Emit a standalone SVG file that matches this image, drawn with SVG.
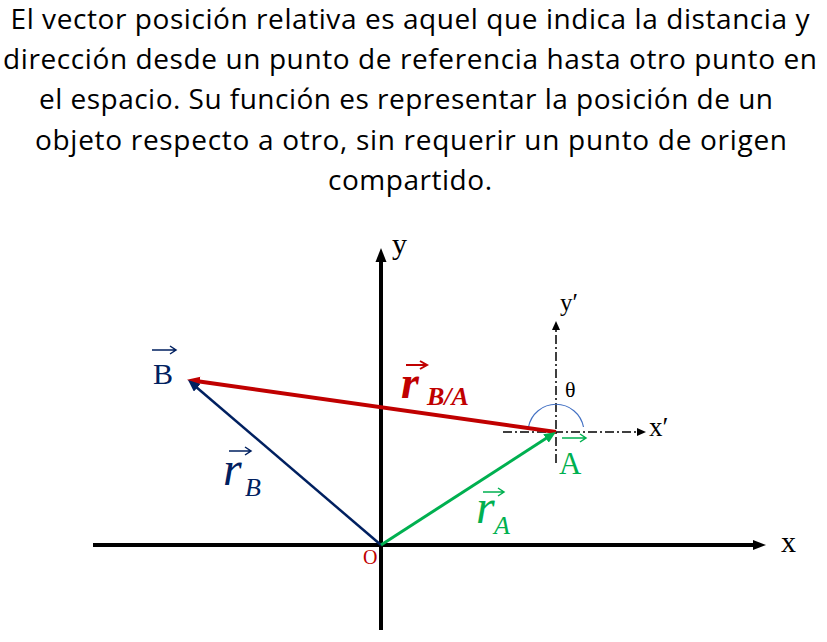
<svg xmlns="http://www.w3.org/2000/svg" width="827" height="642" viewBox="0 0 827 642">
<style>
.title{font-family:"Open Sans",Lato,"Liberation Sans",sans-serif;font-size:28px;fill:#000;text-anchor:middle}
.serif{font-family:"Liberation Serif","DejaVu Serif",serif}
.math{font-family:"Liberation Serif","DejaVu Serif",serif;font-style:italic}
.dd{stroke:#000;stroke-width:1.5;stroke-dasharray:9 3 2 3;fill:none}
</style>
<defs>
<marker id="hRed" markerUnits="userSpaceOnUse" markerWidth="14" markerHeight="12" refX="4" refY="5" orient="auto"><path d="M0,0 L13,5 L0,10 z" fill="#C00000"/></marker>
<marker id="hBlue" markerUnits="userSpaceOnUse" markerWidth="14" markerHeight="12" refX="4" refY="5" orient="auto"><path d="M0,0 L12,5 L0,10 z" fill="#002060"/></marker>
<marker id="hGreen" markerUnits="userSpaceOnUse" markerWidth="14" markerHeight="12" refX="4" refY="5" orient="auto"><path d="M0,0 L12,5 L0,10 z" fill="#00B050"/></marker>
</defs>
<rect width="827" height="642" fill="#fff"/>
<g id="title">
<text class="title" x="410" y="29" textLength="799">El vector posición relativa es aquel que indica la distancia y</text>
<text class="title" x="410" y="69" textLength="814">dirección desde un punto de referencia hasta otro punto en</text>
<text class="title" x="406" y="109" textLength="734">el espacio. Su función es representar la posición de un</text>
<text class="title" x="411" y="150" textLength="752">objeto respecto a otro, sin requerir un punto de origen</text>
<text class="title" x="410" y="190" textLength="164">compartido.</text>
</g>
<g id="axes">
<line x1="93" y1="545" x2="754" y2="545" stroke="#000" stroke-width="4"/>
<polygon points="753,540 766,545 753,550" fill="#000"/>
<line x1="381" y1="630" x2="381" y2="261" stroke="#000" stroke-width="4"/>
<polygon points="375.5,262 381,248 386.5,262" fill="#000"/>
<text class="serif" x="392" y="254" font-size="30">y</text>
<text class="serif" x="781" y="552" font-size="30">x</text>
<text class="serif" x="363" y="564" font-size="20" fill="#C00000">O</text>
</g>
<g id="local-axes">
<line class="dd" x1="503" y1="432" x2="638" y2="432"/>
<polygon points="637,428 646,432 637,436" fill="#000"/>
<line class="dd" x1="556" y1="463" x2="556" y2="329"/>
<polygon points="552,330 556,321 560,330" fill="#000"/>
<text class="serif" x="649" y="436" font-size="27">x′</text>
<text class="serif" x="560" y="311" font-size="25">y′</text>
<text class="serif" x="565" y="397" font-size="22">θ</text>
<path d="M528.5,427 A28,28 0 0 1 583.5,427" fill="none" stroke="#4472C4" stroke-width="1.2"/>
</g>
<g id="connectors">
<line id="rBA" x1="556" y1="432" x2="195.9" y2="381.1" stroke="#C00000" stroke-width="4" marker-end="url(#hRed)"/>
<line id="rB" x1="381" y1="545" x2="194.1" y2="385.2" stroke="#002060" stroke-width="2.5" marker-end="url(#hBlue)"/>
<line id="rA" x1="381" y1="545" x2="549.3" y2="436.3" stroke="#00B050" stroke-width="3" marker-end="url(#hGreen)"/>
</g>
<g id="label-B">
<text class="serif" x="153" y="384" font-size="30" fill="#002060">B</text>
<path d="M152,350 H175 M170,346 L176,350 L170,354" fill="none" stroke="#002060" stroke-width="1.5"/>
</g>
<g id="label-A">
<text class="serif" x="559" y="474" font-size="31" fill="#00B050">A</text>
<path d="M562,438 H586 M580,434 L586,438 L580,442" fill="none" stroke="#00B050" stroke-width="1.5"/>
</g>
<g id="label-rB" fill="#002060">
<text class="math" x="223" y="485" font-size="48">r</text>
<text class="math" x="245" y="496" font-size="26">B</text>
<path d="M229,451 H250 M245,447 L251,451 L245,455" fill="none" stroke="#002060" stroke-width="1.5"/>
</g>
<g id="label-rA" fill="#00B050">
<text class="math" x="476" y="523" font-size="48">r</text>
<text class="math" x="494" y="534" font-size="26">A</text>
<path d="M483,492 H503 M498,488 L504,492 L498,496" fill="none" stroke="#00B050" stroke-width="1.5"/>
</g>
<g id="label-rBA" fill="#C00000">
<text class="math" x="401" y="398" font-size="46" font-weight="bold">r</text>
<text class="math" x="427" y="405" font-size="26" font-weight="bold">B/A</text>
<path d="M406,365 H426 M420,361 L427,365 L420,369" fill="none" stroke="#C00000" stroke-width="2"/>
</g>
</svg>
